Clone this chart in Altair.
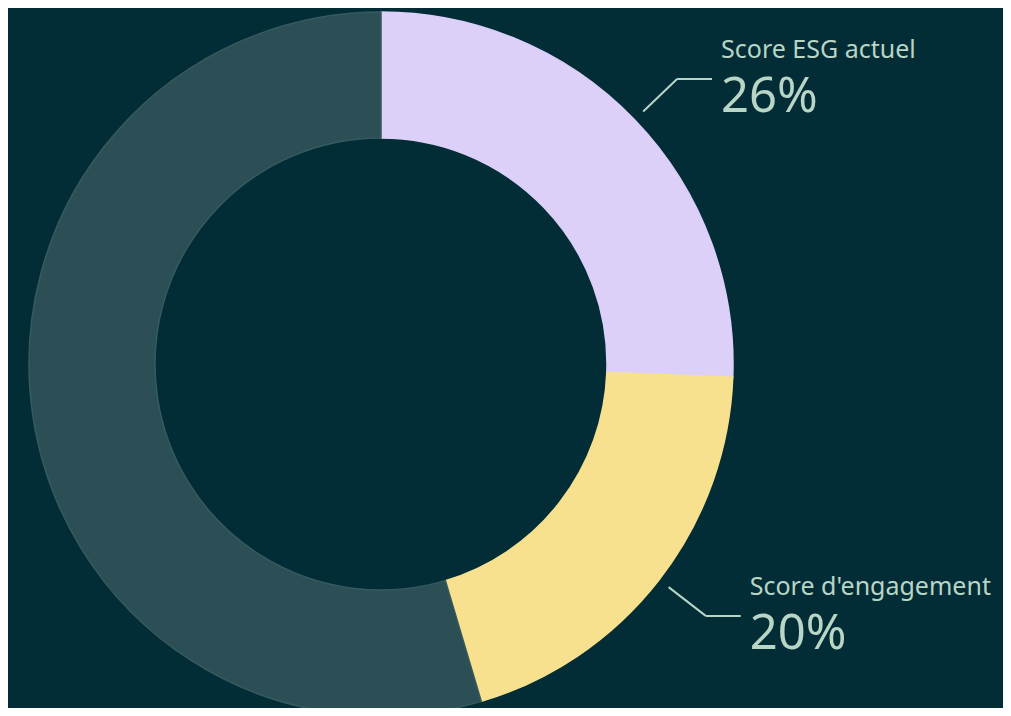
import altair as alt
import pandas as pd

# Data
categories = ["Score ESG actuel", "Score d'engagement", "Autres"]
values = [25.6, 19.8, 54.6]
labels = ["26%", "20%", ""]
fills = ["#dcd0f8", "#f7e18f", "#2b4f55"]
strokes = ["#dcd0f8", "#f7e18f", "#365a5f"]
orders = [0, 1, 2]

BG = "#022d36"
TEXT = "#b8d5c5"
FONT = "Noto Sans"

CX, CY = 373, 356          # donut centre inside the plot area
R_OUT, R_IN = 352, 226
R_LEAD0, R_LEAD1 = 364, 411
HLEN, GAP = 35, 9

df = pd.DataFrame({
    "cat": categories, "value": values, "label": labels,
    "fill": fills, "stroke": strokes, "order": orders,
})

base = alt.Chart(df)

arcs = base.mark_arc(outerRadius=R_OUT, innerRadius=R_IN, strokeWidth=1.5).encode(
    theta=alt.Theta("value:Q", stack=True),
    order=alt.Order("order:Q"),
    color=alt.Color("fill:N", scale=None, legend=None),
    stroke=alt.Stroke("stroke:N", scale=None, legend=None),
    x=alt.value(CX),
    y=alt.value(CY),
)

geo = (
    base.transform_window(cum="sum(value)", sort=[alt.SortField("order")], frame=[None, 0])
    .transform_joinaggregate(total="sum(value)")
    .transform_calculate(mid="(datum.cum - datum.value/2) / datum.total * 2 * PI")
    .transform_calculate(
        x0=f"{CX} + {R_LEAD0} * sin(datum.mid)",
        y0=f"{CY} - {R_LEAD0} * cos(datum.mid)",
        x1=f"{CX} + {R_LEAD1} * sin(datum.mid)",
        y1=f"{CY} - {R_LEAD1} * cos(datum.mid)",
    )
    .transform_calculate(x2=f"datum.x1 + {HLEN}")
    .transform_calculate(tx=f"datum.x2 + {GAP}", ty1="datum.y1 - 21", ty2="datum.y1 + 33")
    .transform_filter("datum.label != ''")
)

lead1 = geo.mark_rule(color=TEXT, strokeWidth=2).encode(
    x=alt.X("x0:Q", scale=None, axis=None),
    y=alt.Y("y0:Q", scale=None, axis=None),
    x2="x1:Q", y2="y1:Q",
)
lead2 = geo.mark_rule(color=TEXT, strokeWidth=2).encode(
    x=alt.X("x1:Q", scale=None, axis=None),
    y=alt.Y("y1:Q", scale=None, axis=None),
    x2="x2:Q", y2="y1:Q",
)
name = geo.mark_text(align="left", baseline="alphabetic", font=FONT, fontSize=25, color=TEXT).encode(
    x=alt.X("tx:Q", scale=None, axis=None),
    y=alt.Y("ty1:Q", scale=None, axis=None),
    text="cat:N",
)
pct = geo.mark_text(align="left", baseline="alphabetic", font=FONT, fontSize=49, color=TEXT).encode(
    x=alt.X("tx:Q", scale=None, axis=None),
    y=alt.Y("ty2:Q", scale=None, axis=None),
    text="label:N",
)

chart = (
    alt.layer(arcs, lead1, lead2, name, pct)
    .properties(width=995, height=700, autosize=alt.AutoSizeParams(type="none"), padding=0, background=BG)
    .configure_view(stroke=None)
)

chart.save("out.html", embed_options={"renderer": "svg", "actions": False})
